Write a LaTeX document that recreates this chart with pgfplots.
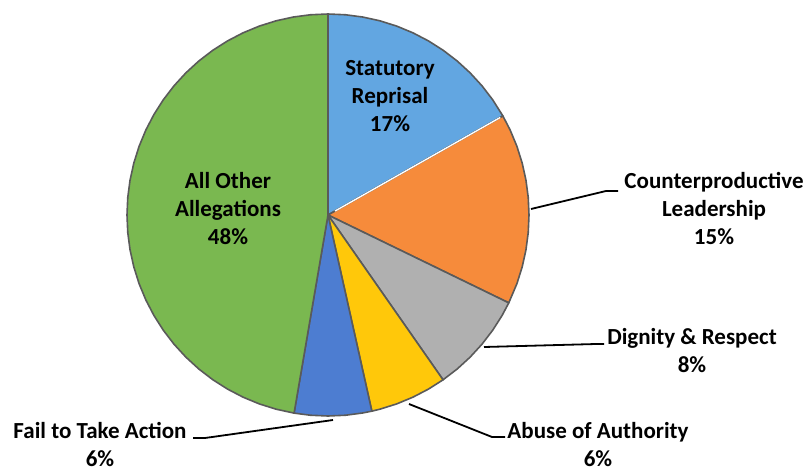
\documentclass[border=0pt]{standalone}
\usepackage{pgfplots}
\pgfplotsset{compat=1.18}
\usepackage{fontspec}
\setmainfont{Carlito}
\definecolor{cBlue}{HTML}{62A6E1}
\definecolor{cOrange}{HTML}{F68B3B}
\definecolor{cGray}{HTML}{B0B0B0}
\definecolor{cYellow}{HTML}{FFC80A}
\definecolor{cDBlue}{HTML}{4D7DD1}
\definecolor{cGreen}{HTML}{7AB850}
\definecolor{cEdge}{HTML}{5A5A5A}
% slice shares (%): Statutory Reprisal 16.8, Counterproductive Leadership 15.4,
% Dignity & Respect 8.1, Abuse of Authority 6.2, Fail to Take Action 6.2, All Other 47.3
\begin{document}
\begin{tikzpicture}
\path[use as bounding box] (0,0) rectangle (807bp,-473bp);
\begin{axis}[hide axis, scale only axis, width=402bp, height=402bp,
  xmin=-1, xmax=1, ymin=-1, ymax=1, clip=false,
  at={(328bp,-215bp)}, anchor=origin]
\pgfplotsset{every axis plot/.append style={data cs=polar, draw=cEdge, line width=1.6bp, line join=round}}
\addplot[fill=cBlue] coordinates {
 (0,0) (90,1) (85,1) (80,1) (75,1) (70,1) (65,1) (60,1) (55,1) (50,1) (45,1) (40,1) (35,1) (29.52,1) (0,0)} -- cycle;
\addplot[fill=cOrange] coordinates {
 (0,0) (29.52,1) (25,1) (20,1) (15,1) (10,1) (5,1) (0,1) (-5,1) (-10,1) (-15,1) (-20,1) (-25.92,1) (0,0)} -- cycle;
\addplot[fill=cGray] coordinates {
 (0,0) (-25.92,1) (-30,1) (-35,1) (-40,1) (-45,1) (-50,1) (-55.08,1) (0,0)} -- cycle;
\addplot[fill=cYellow] coordinates {
 (0,0) (-55.08,1) (-60,1) (-65,1) (-70,1) (-75,1) (-77.4,1) (0,0)} -- cycle;
\addplot[fill=cDBlue] coordinates {
 (0,0) (-77.4,1) (-80,1) (-85,1) (-90,1) (-95,1) (-99.72,1) (0,0)} -- cycle;
\addplot[fill=cGreen] coordinates {
 (0,0) (260.28,1) (255,1) (250,1) (245,1) (240,1) (235,1) (230,1) (225,1) (220,1) (215,1) (210,1) (205,1) (200,1) (195,1) (190,1) (185,1) (180,1) (175,1) (170,1) (165,1) (160,1) (155,1) (150,1) (145,1) (140,1) (135,1) (130,1) (125,1) (120,1) (115,1) (110,1) (105,1) (100,1) (95,1) (90,1) (0,0)} -- cycle;
% white gap between Statutory Reprisal and Counterproductive Leadership
\addplot[draw=white, line width=1.4bp] coordinates {(29.52,0.04) (29.52,0.985)};
\end{axis}
% leader lines
\tikzset{lead/.style={black, line width=1.8bp, line join=round}}
\draw[lead] (531bp,-209bp) -- (606bp,-191bp) -- (618bp,-191bp);
\draw[lead] (484bp,-347bp) -- (596bp,-344bp) -- (604bp,-344bp);
\draw[lead] (409bp,-404bp) -- (492bp,-437bp) -- (505bp,-437bp);
\draw[lead] (333bp,-420bp) -- (205bp,-438bp) -- (193bp,-438bp);
% labels
\tikzset{lbl/.style={align=center, inner sep=0pt, font=\fontsize{23bp}{28bp}\selectfont\bfseries}}
\node[lbl] at (390bp,-96bp) {Statutory\\Reprisal\\17\%};
\node[lbl] at (228bp,-209bp) {All Other\\Allegations\\48\%};
\node[lbl] at (714bp,-209bp) {Counterproductive\\Leadership\\15\%};
\node[lbl] at (692bp,-351bp) {Dignity \& Respect\\8\%};
\node[lbl] at (598bp,-445bp) {Abuse of Authority\\6\%};
\node[lbl] at (100bp,-445bp) {Fail to Take Action\\6\%};
\end{tikzpicture}
\end{document}
